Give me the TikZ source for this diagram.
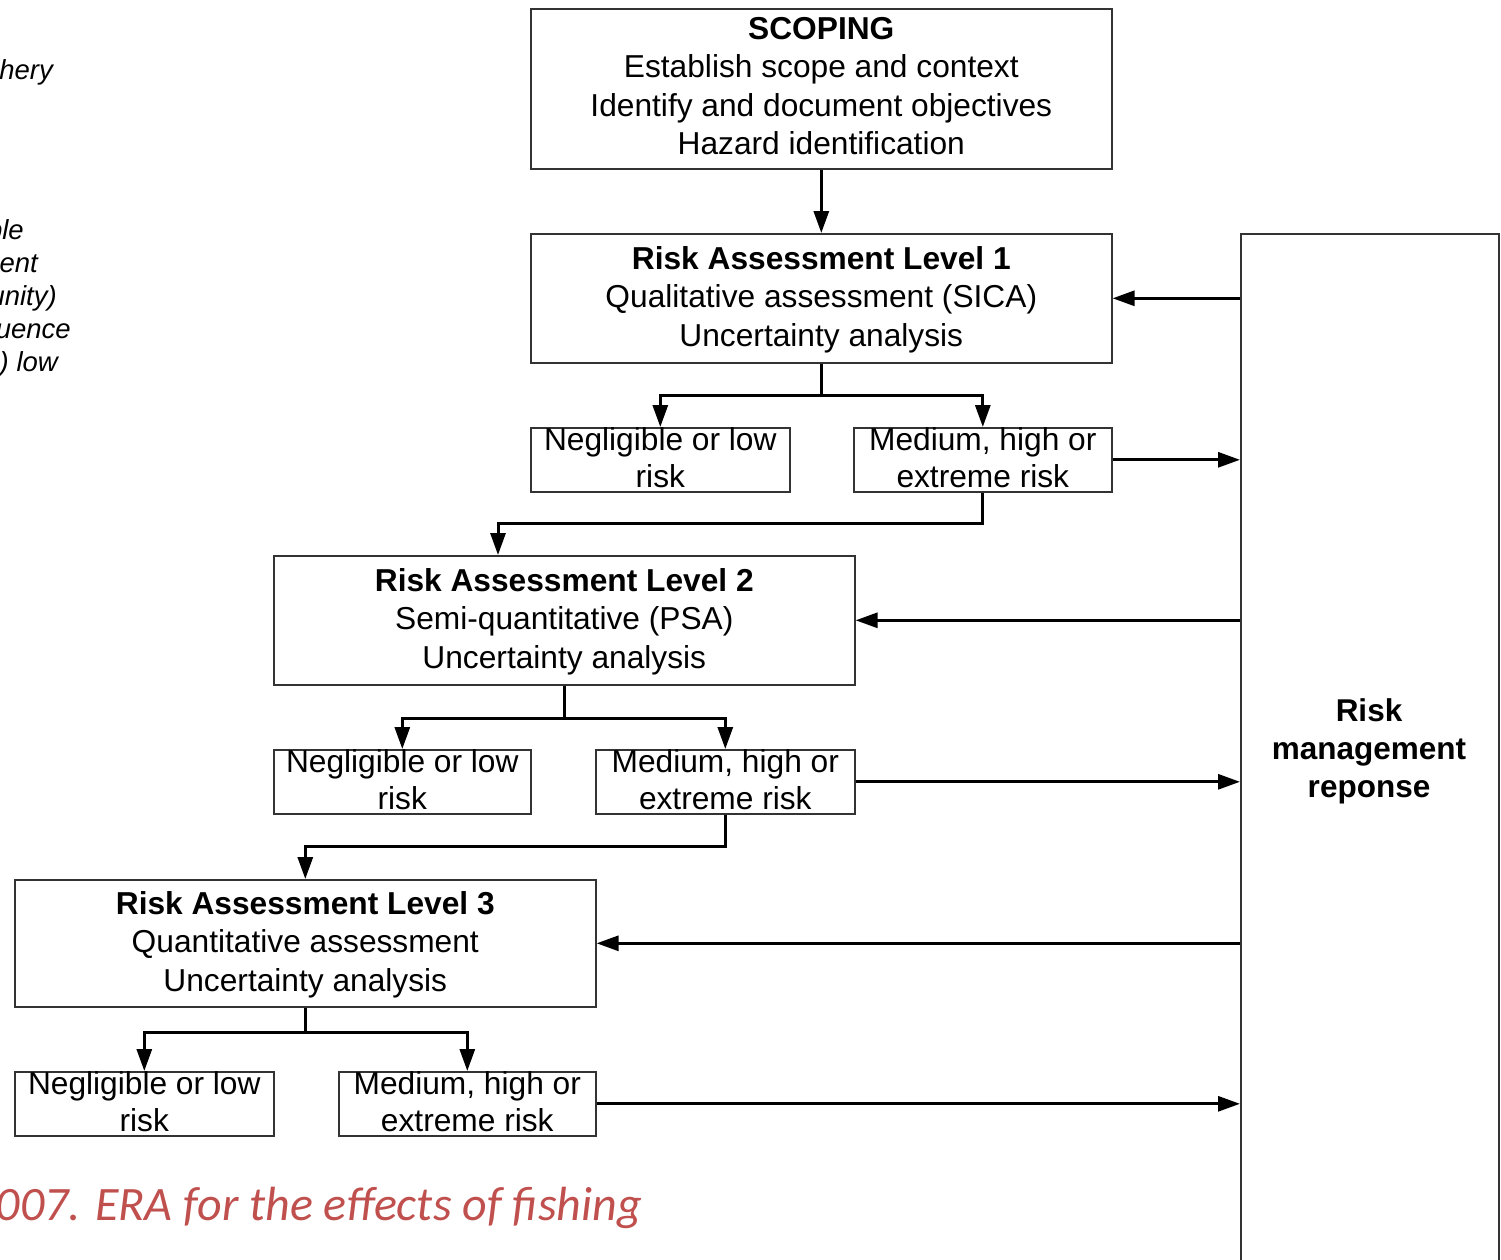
\documentclass[tikz,border=0pt]{standalone}
\usepackage{fontspec}
\setmainfont{Liberation Sans}
\newfontfamily\capfont{Carlito}
\usetikzlibrary{arrows.meta,calc}
\definecolor{capred}{RGB}{192,80,77}
\definecolor{edge}{RGB}{51,51,51}
\begin{document}
\begin{tikzpicture}[x=1pt,y=-1pt,
  box/.style={draw=edge,line width=1.6pt,rectangle,inner sep=0pt,anchor=north west},
  txt/.style={inner sep=0pt,anchor=north,align=center,font=\fontsize{31.7}{38.5}\selectfont},
  smalltxt/.style={inner sep=0pt,anchor=north,align=center,font=\fontsize{31.7}{37}\selectfont},
  conn/.style={line width=3pt,black},
  arr/.style={conn,-{Triangle[length=22pt,width=15pt]}},
  side/.style={inner sep=0pt,anchor=base east,font=\fontsize{27.5}{33}\selectfont\itshape}]
\useasboundingbox (0,0) rectangle (1501,1260);
\clip (0,0) rectangle (1501,1260);

% boxes
\node[box,minimum width=581pt,minimum height=160pt] (scop) at (530,8) {};
\node[box,minimum width=581pt,minimum height=129pt] (ral1) at (530,233) {};
\node[box,minimum width=259pt,minimum height=64pt] (nl1) at (530,427) {};
\node[box,minimum width=258pt,minimum height=64pt] (mh1) at (853,427) {};
\node[box,minimum width=581pt,minimum height=129pt] (ral2) at (273,555) {};
\node[box,minimum width=257pt,minimum height=64pt] (nl2) at (273,749) {};
\node[box,minimum width=259pt,minimum height=64pt] (mh2) at (595,749) {};
\node[box,minimum width=581pt,minimum height=127pt] (ral3) at (14,879) {};
\node[box,minimum width=259pt,minimum height=64pt] (nl3) at (14,1071) {};
\node[box,minimum width=257pt,minimum height=64pt] (mh3) at (338,1071) {};
\node[box,minimum width=258pt,minimum height=1100pt] (rmr) at (1240,233) {};

% box texts
\node[txt] (tscop) at ($(scop.north)+(0,9)$) {\textbf{SCOPING}\\Establish scope and context\\Identify and document objectives\\Hazard identification};
\node[txt] (tral1) at ($(ral1.north)+(0,13)$) {\textbf{Risk Assessment Level 1}\\Qualitative assessment (SICA)\\Uncertainty analysis};
\node[txt] (tral2) at ($(ral2.north)+(0,13)$) {\textbf{Risk Assessment Level 2}\\Semi-quantitative (PSA)\\Uncertainty analysis};
\node[txt] (tral3) at ($(ral3.north)+(0,12)$) {\textbf{Risk Assessment Level 3}\\Quantitative assessment\\Uncertainty analysis};
\foreach \b in {nl1,nl2,nl3}
  \node[smalltxt] (t\b) at ($(\b.north)+(0,0)$) {Negligible or low\\risk};
\foreach \b in {mh1,mh2,mh3}
  \node[smalltxt] (t\b) at ($(\b.north)+(0,0)$) {Medium, high or\\extreme risk};
\node[txt,font=\fontsize{31.5}{38}\selectfont\bfseries] (trmr) at (1369,698) {Risk\\management\\reponse};

% flow down the levels
\draw[arr] (scop.south) -- (ral1.north);
\draw[conn] (ral1.south) -- ++(0,32) coordinate (f1);
\draw[arr] (f1) -| (nl1.north);
\draw[arr] (f1) -| (mh1.north);
\draw[arr] (mh1.south) -- ++(0,31) -| ([xshift=225pt]ral2.north west);
\draw[conn] (ral2.south) -- ++(0,33) coordinate (f2);
\draw[arr] (f2) -| (nl2.north);
\draw[arr] (f2) -| (mh2.north);
\draw[arr] (mh2.south) -- ++(0,32) -| (ral3.north);
\draw[conn] (ral3.south) -- ++(0,25) coordinate (f3);
\draw[arr] (f3) -| (nl3.north);
\draw[arr] (f3) -| (mh3.north);

% links with the management response
\draw[arr] (ral1.east -| rmr.west) -- (ral1.east);
\draw[arr] (mh1.east) -- (mh1.east -| rmr.west);
\draw[arr] (ral2.east -| rmr.west) -- (ral2.east);
\draw[arr] (mh2.east) -- (mh2.east -| rmr.west);
\draw[arr] (ral3.east -| rmr.west) -- (ral3.east);
\draw[arr] (mh3.east) -- (mh3.east -| rmr.west);

% side notes running off the left edge
\node[side] (s1) at (53,80) {hery};
\node[side] (s2) at (24,239) {ple};
\node[side] (s3) at (38,272) {ent};
\node[side] (s4) at (57,305) {unity)};
\node[side] (s5) at (71,338) {uence};
\node[side] (s6) at (58,371) {) low};

% caption
\node[inner sep=0pt,anchor=base east,text=capred,font=\capfont\fontsize{48}{50}\selectfont\itshape] (cap) at (642,1220) {007. ERA for the effects of fishing};
\end{tikzpicture}
\end{document}
